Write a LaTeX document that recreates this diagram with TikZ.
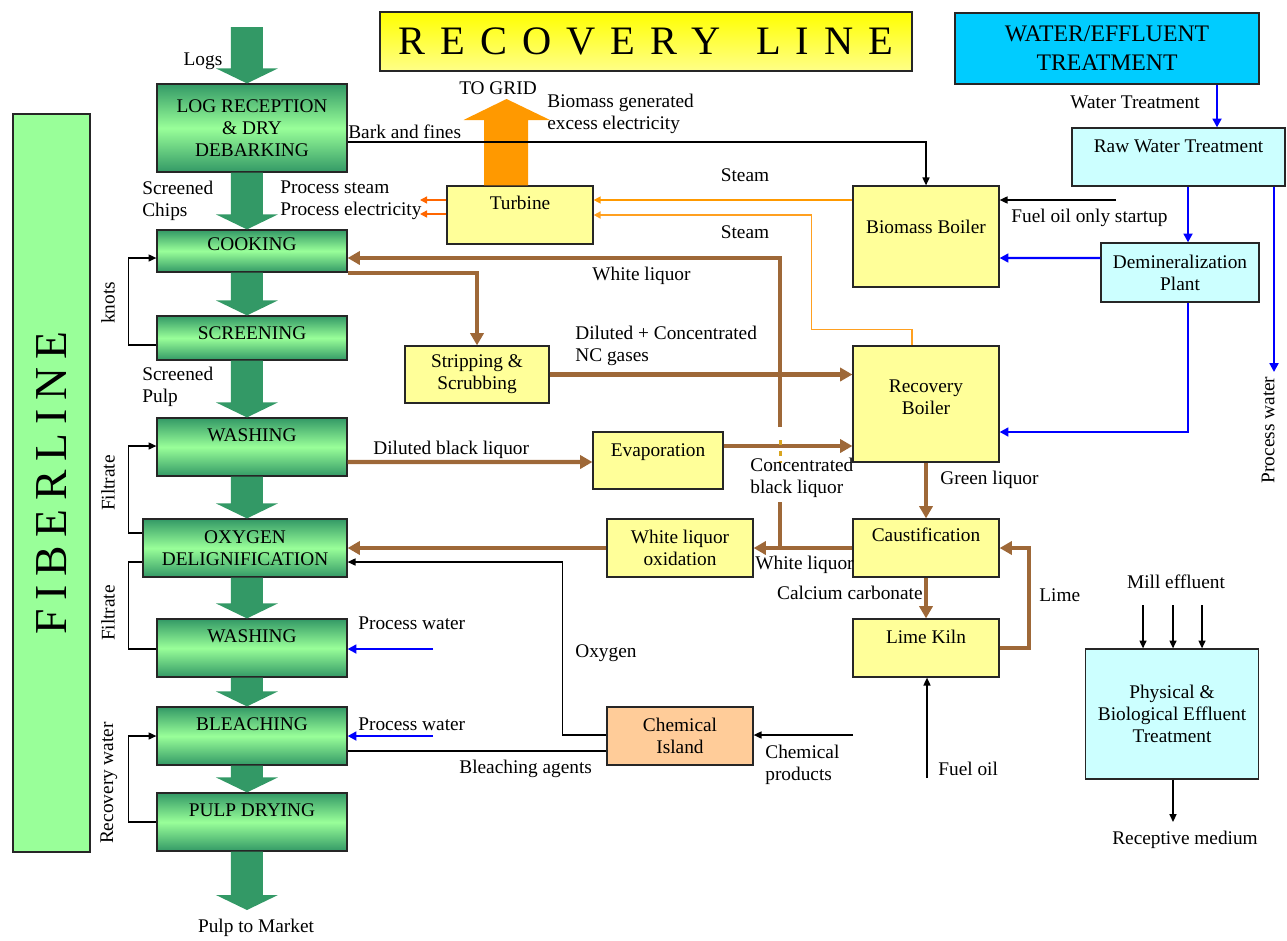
\documentclass[tikz,border=0pt]{standalone}
\usepackage{fontspec}
\setmainfont{Liberation Serif}
\usepackage{tikz}
\usetikzlibrary{arrows.meta,calc}

\definecolor{pulpgreen}{HTML}{339966}
\definecolor{fibgreen}{HTML}{99FF99}
\definecolor{boxyellow}{HTML}{FFFF99}
\definecolor{titletop}{HTML}{FFFF00}
\definecolor{titlebot}{HTML}{FFFF88}
\definecolor{watercyan}{HTML}{00CCFF}
\definecolor{lightcyan}{HTML}{CCFFFF}
\definecolor{chemorange}{HTML}{FFCC99}
\definecolor{brownliq}{RGB}{158,104,56}
\definecolor{gridorange}{HTML}{FF9900}
\definecolor{redorange}{HTML}{FF6600}
\definecolor{steamlight}{HTML}{FFA020}
\definecolor{dotyellow}{HTML}{D9A520}

\newcommand{\lblfont}{\fontsize{11}{12.5}\selectfont}
\newcommand{\tgap}{\hspace{8.5pt}}
\newcommand{\fgap}{\hspace{5pt}}
% big green pulp arrow from #1 down to #2
\newcommand{\pulparrow}[2]{%
  \fill[pulpgreen] let \p1=#1, \p2=#2 in
    (4.62cm,\y1) -- (5.26cm,\y1) -- (5.26cm,\y2+0.3cm) -- (5.56cm,\y2+0.3cm)
    -- (4.94cm,\y2) -- (4.32cm,\y2+0.3cm) -- (4.62cm,\y2+0.3cm) -- cycle;}

\begin{document}
\begin{tikzpicture}[x=0.02cm, y=-0.02cm,
    procbox/.style={draw=black!85, line width=0.7pt, inner sep=2pt, align=center, font=\lblfont},
    greenbox/.style={procbox, top color=pulpgreen, bottom color=pulpgreen, middle color=fibgreen, minimum width=3.8cm},
    yellowbox/.style={procbox, fill=boxyellow},
    cyanbox/.style={procbox, fill=lightcyan},
    lift/.style={text depth=#1},
    lbl/.style={inner sep=0pt, font=\lblfont, align=left},
    flow/.style={draw, line width=0.8pt, -{Triangle[length=4.5pt,width=4pt]}},
    waterflow/.style={draw=blue, line width=1.4pt, -{Triangle[length=5pt,width=5pt]}},
    liquor/.style={draw=brownliq, line width=2.3pt, -{Triangle[length=7pt,width=7.5pt]}},
    steam/.style={line width=0.8pt, -{Triangle[length=4pt,width=4pt]}}]
    \useasboundingbox (0,0) rectangle (1287,940);

    % Titles
    \node[procbox, fill=fibgreen, rotate=90, minimum width=14.76cm, minimum height=1.54cm,
          font=\fontsize{26}{26}\selectfont] (fiber) at (51.5,483)
          {F\fgap I\fgap B\fgap E\fgap R\fgap L\fgap I\fgap N\fgap E};
    \node[procbox, top color=titletop, bottom color=titlebot, minimum width=10.64cm, minimum height=1.18cm,
          font=\fontsize{23}{23}\selectfont] (title) at (646,41.5)
          {R\tgap E\tgap C\tgap O\tgap V\tgap E\tgap R\tgap Y\hspace{20pt}L\tgap I\tgap N\tgap E};
    \node[procbox, fill=watercyan, minimum width=6.08cm, minimum height=1.42cm,
          font=\fontsize{13.5}{16.5}\selectfont] (water) at (1107,48.5) {WATER/EFFLUENT\\TREATMENT};

    % Fiberline
    \node[greenbox, minimum height=1.76cm] (logrec) at (252,128) {LOG RECEPTION\\\& DRY\\DEBARKING};
    \node[greenbox, minimum height=0.84cm, lift=8.2pt] (cook) at (252,251) {COOKING};
    \node[greenbox, minimum height=0.88cm, lift=5.9pt] (screen) at (252,338) {SCREENING};
    \node[greenbox, minimum height=1.16cm, lift=13.9pt] (wash1) at (252,447) {WASHING};
    \node[greenbox, minimum width=4.08cm, minimum height=1.16cm] (oxy) at (245,548) {OXYGEN\\DELIGNIFICATION};
    \node[greenbox, minimum height=1.16cm, lift=13.9pt] (wash2) at (252,648) {WASHING};
    \node[greenbox, minimum height=1.16cm, lift=13.9pt] (bleach) at (252,736) {BLEACHING};
    \node[greenbox, minimum height=1.16cm, lift=13.9pt] (dry) at (252,822) {PULP DRYING};

    \coordinate (logs) at (247,27);
    \coordinate (pulpout) at (247,910);
    \pulparrow{(logs)}{(logrec.north)}
    \pulparrow{(logrec.south)}{(cook.north)}
    \pulparrow{(cook.south)}{(screen.north)}
    \pulparrow{(screen.south)}{(wash1.north)}
    \pulparrow{(wash1.south)}{(oxy.north)}
    \pulparrow{(oxy.south)}{(wash2.north)}
    \pulparrow{(wash2.south)}{(bleach.north)}
    \pulparrow{(bleach.south)}{(dry.north)}
    \pulparrow{(dry.south)}{(pulpout)}

    % Recycle loops on the left
    \draw[flow] ($(screen.west)+(0,7)$) -- ++(-28,0) |- ($(cook.west)+(0,7)$);
    \draw[flow] ($(oxy.west)+(0,-15)$) -- ++(-14,0) |- ($(wash1.west)+(0,-1)$);
    \draw[line width=0.8pt] ($(wash2.west)+(0,1)$) -- ++(-28,0) |- ($(oxy.west)+(0,14)$);
    \draw[flow] (dry.west) -- ++(-28,0) |- (bleach.west);

    % Recovery line
    \node[yellowbox, minimum width=2.92cm, minimum height=1.16cm, lift=13.9pt] (turbine) at (520,215) {Turbine};
    \node[yellowbox, minimum width=2.92cm, minimum height=2.02cm, lift=11.6pt] (biomass) at (926,236.5) {Biomass Boiler};
    \node[yellowbox, minimum width=2.88cm, minimum height=1.14cm] (strip) at (477,374.5) {Stripping \&\\Scrubbing};
    \node[yellowbox, minimum width=2.6cm, minimum height=1.14cm, lift=12.2pt] (evap) at (658,460.5) {Evaporation};
    \node[yellowbox, minimum width=2.92cm, minimum height=2.32cm] (rb) at (926,404) {Recovery\\Boiler\\[-5pt]~};
    \node[yellowbox, minimum width=2.92cm, minimum height=1.16cm] (wlo) at (680,548) {White liquor\\oxidation};
    \node[yellowbox, minimum width=2.92cm, minimum height=1.16cm, lift=15pt] (caust) at (926,548) {Caustification};
    \node[yellowbox, minimum width=2.92cm, minimum height=1.16cm, lift=12.7pt] (kiln) at (926,648) {Lime Kiln};
    \node[procbox, fill=chemorange, minimum width=2.92cm, minimum height=1.16cm] (chem) at (680,736) {Chemical\\Island};

    % Electricity to grid
    \coordinate (grid) at (506.5,99);
    \fill[gridorange] ($(turbine.north)+(-36,0)$) |- ($(grid)+(-22,21)$) -- ++(-21,0) -- (grid)
        -- ++(43.5,21) -- ++(-22,0) |- ($(turbine.north)+(8,0)$) -- cycle;

    % Steam and power
    \coordinate (psteam) at (420,200);
    \coordinate (pelec) at (420,214);
    \draw[steam, redorange] (psteam -| turbine.west) -- (psteam);
    \draw[steam, redorange] (pelec -| turbine.west) -- (pelec);
    \draw[steam, gridorange] ($(biomass.west)+(0,-36.5)$) -- ($(turbine.east)+(0,-15)$);
    \draw[steam, steamlight, line width=1pt] ($(rb.north)+(-14,0)$) -- ++(0,-16) -| ($(turbine.east)+(218,0)$) -- (turbine.east);
    \draw[flow] ($(logrec.east)+(0,14)$) -| (biomass.north);

    % Liquor cycle
    \coordinate (wlj) at ($(caust.west)+(-72,0)$);
    \draw[liquor] (cook.south east) -| (strip.north);
    \draw[liquor] (strip.east) -- (strip.east -| rb.west);
    \draw[liquor] ($(wash1.east)+(0,15)$) -- ($(evap.west)+(0,1.5)$);
    \draw[liquor] ($(evap.east)+(0,-14.5)$) -- ($(rb.west)+(0,42)$);
    \draw[liquor] (rb.south) -- (caust.north);
    \draw[liquor] (caust.south) -- (kiln.north);
    \draw[liquor] (kiln.east) -- ++(29,0) |- (caust.east);
    \draw[liquor] (caust.west) -- (wlo.east);
    \draw[liquor] (wlo.west) -- (oxy.east);
    \draw[liquor, -] (wlj) -- ++(0,-46);
    \draw[liquor] ($(wlj)+(0,-121)$) |- ($(cook.east)+(0,7)$);
    \draw[dotyellow, line width=1.5pt, dash pattern=on 3pt off 3pt] ($(wlj)+(0,-108)$) -- ($(wlj)+(0,-85)$);

    % Chemicals
    \coordinate (chemin) at (853,735);
    \coordinate (fuelin) at (927,778);
    \draw[flow] (chemin) -- (chemin -| chem.east);
    \draw[flow] ($(chem.west)+(0,-1)$) -- ++(-44,0) |- ($(oxy.east)+(0,14)$);
    \draw[line width=0.8pt] ($(chem.west)+(0,15)$) -- ($(bleach.east)+(0,15)$);
    \draw[flow] (fuelin) -- (fuelin |- kiln.south);

    % Water / effluent treatment
    \node[cyanbox, minimum width=4.26cm, minimum height=1.16cm, lift=12.7pt] (raw) at (1178.5,157) {Raw Water Treatment};
    \node[cyanbox, minimum width=3.16cm, minimum height=1.18cm] (demin) at (1180,272.5) {Demineralization\\Plant};
    \node[cyanbox, minimum width=3.46cm, minimum height=2.6cm] (phys) at (1172,714) {Physical \&\\Biological Effluent\\Treatment};

    \coordinate (wt) at ($(water.south)+(110,0)$);
    \coordinate (dm) at ($(demin.north)+(8,0)$);
    \coordinate (pw) at (1274,372);
    \coordinate (startin) at (1116,200);
    \draw[waterflow] (wt) -- (wt |- raw.north);
    \draw[waterflow] (dm |- raw.south) -- (dm);
    \draw[waterflow] (pw |- raw.south) -- (pw);
    \draw[waterflow] ($(demin.west)+(0,-14.5)$) -- ($(biomass.east)+(0,21.5)$);
    \draw[waterflow] ($(demin.south)+(8,0)$) |- ($(rb.east)+(0,28)$);
    \draw[flow] (startin) -- (startin -| biomass.east);

    \coordinate (pw1) at (433,649);
    \coordinate (pw2) at (433,736);
    \draw[waterflow] (pw1) -- (pw1 -| wash2.east);
    \draw[waterflow] (pw2) -- (pw2 -| bleach.east);

    \foreach \i/\x in {1/1143,2/1173,3/1202} {
        \coordinate (mill\i) at (\x,605);
        \draw[flow] (mill\i) -- (mill\i |- phys.north);
    }
    \coordinate (receive) at (1173,822);
    \draw[flow] ($(phys.south)+(1,0)$) -- (receive);

    % Labels
    \node[lbl] (logslbl) at (203,61) {Logs};
    \node[lbl, anchor=west] (chips) at (142,201) {Screened\\Chips};
    \node[lbl, anchor=west] (procout) at (280,200.5) {Process steam\\Process electricity};
    \node[lbl, anchor=west] (pulp) at (142,387) {Screened\\Pulp};
    \node[lbl] (market) at (256,928) {Pulp to Market};
    \node[lbl, rotate=90] (knots) at (108,303) {knots};
    \node[lbl, rotate=90] (filt1) at (108,483) {Filtrate};
    \node[lbl, rotate=90] (filt2) at (108,613) {Filtrate};
    \node[lbl, rotate=90] (recw) at (109,783) {Recovery water};
    \node[lbl, anchor=west] (pw1lbl) at (358,623) {Process water};
    \node[lbl, anchor=west] (pw2lbl) at (358,724) {Process water};

    \node[lbl, anchor=west] (bark) at (348,132) {Bark and fines};
    \node[lbl] (togrid) at (498,88) {TO GRID};
    \node[lbl, anchor=west] (excess) at (547,114) {Biomass generated\\excess electricity};
    \node[lbl] (steam1lbl) at (745,175) {Steam};
    \node[lbl] (steam2lbl) at (745,232) {Steam};
    \node[lbl, anchor=west] (wl1lbl) at (592,276) {White liquor};
    \node[lbl, anchor=west] (ncg) at (575,345.5) {Diluted + Concentrated\\NC gases};
    \node[lbl, anchor=west] (dbl) at (373,450) {Diluted black liquor};
    \node[lbl, anchor=west] (cbl) at (750,478) {Concentrated\\black liquor};
    \node[lbl, anchor=west] (grl) at (940,480) {Green liquor};
    \node[lbl, anchor=west] (wl2lbl) at (755,565) {White liquor};
    \node[lbl, anchor=east] (caco) at (923,593) {Calcium carbonate};
    \node[lbl, anchor=west] (limelbl) at (1039,595) {Lime};
    \node[lbl, anchor=west] (oxlbl) at (575,653) {Oxygen};
    \node[lbl, anchor=west] (blag) at (459,769) {Bleaching agents};
    \node[lbl, anchor=west] (chprod) at (765,765) {Chemical\\products};
    \node[lbl, anchor=west] (foil) at (938,769) {Fuel oil};

    \node[lbl, anchor=west] (wtlbl) at (1070,102) {Water Treatment};
    \node[lbl, anchor=west] (startup) at (1011,218) {Fuel oil only startup};
    \node[lbl, rotate=90] (pwlbl) at (1268,430) {Process water};
    \node[lbl] (mill) at (1176,582) {Mill effluent};
    \node[lbl] (recept) at (1185,840) {Receptive medium};
\end{tikzpicture}
\end{document}
